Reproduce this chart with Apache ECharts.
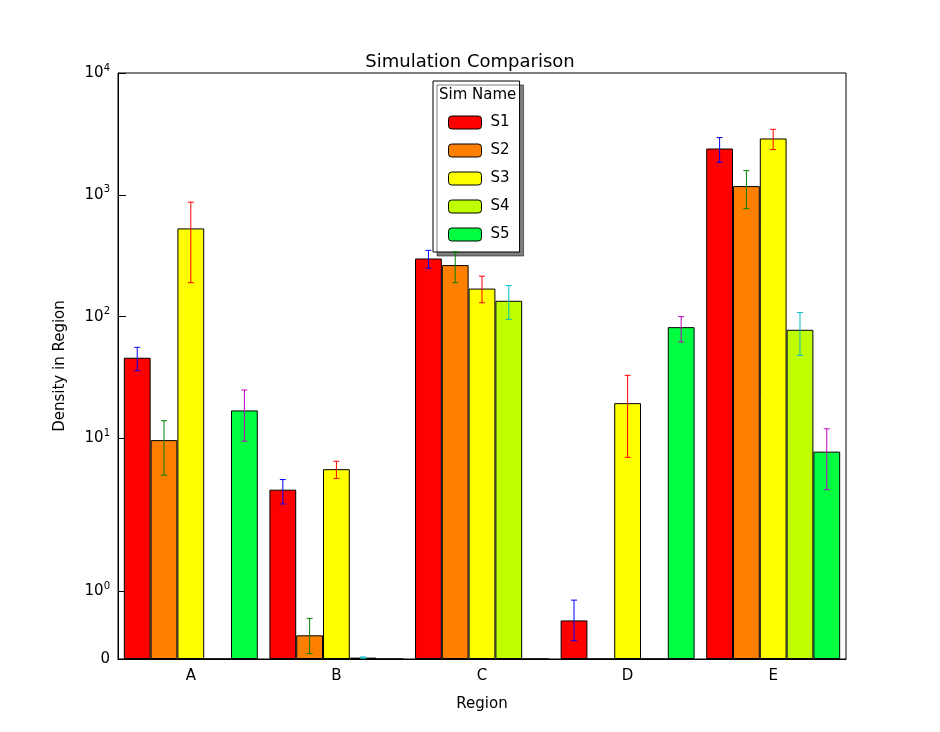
<!DOCTYPE html>
<html><head><meta charset="utf-8">
<script src="https://cdn.jsdelivr.net/npm/echarts@6/dist/echarts.min.js"></script>
<style>html,body{margin:0;background:#fff}#c{width:940px;height:732px}</style>
</head><body><div id="c"></div>
<script>
const categories = ['A','B','C','D','E'];
const seriesNames = ['S1','S2','S3','S4','S5'];
const barColors = ['#ff0000','#ff8000','#ffff00','#bfff00','#00ff40'];
const errColors = ['#0000ff','#008000','#ff0000','#00bfbf','#bf00bf'];
const S1 = [46, 3.8, 300, 0.57, 2400];
const S2 = [9.7, 0.35, 265, 0, 1180];
const S3 = [530, 5.6, 170, 19.5, 2900];
const S4 = [0, 0.02, 135, 0, 78];
const S5 = [17, 0, 0, 82, 7.8];
const S1err = [[36,56],[2.9,4.6],[250,350],[0.27,0.87],[1850,2950]];
const S2err = [[5,14],[0.08,0.6],[190,340],null,[770,1580]];
const S3err = [[190,870],[4.7,6.5],[130,215],[7,33],[2350,3450]];
const S4err = [null,[0.01,0.03],[95,180],null,[48,108]];
const S5err = [[9.5,25],null,null,[62,100],[3.8,12]];
const tickValues = [0,1,10,100,1000,10000];
const tickLabels = ['0','{b|10}{s|0}','{b|10}{s|1}','{b|10}{s|2}','{b|10}{s|3}','{b|10}{s|4}'];

const T = 2, ADJ = 1/(1-0.1);
function f(x){ return x<=T ? x*ADJ : T*(ADJ+Math.log10(x/T)); }
const vals=[S1,S2,S3,S4,S5], errs=[S1err,S2err,S3err,S4err,S5err];
const tv = tickValues.map(f);
const series=[];
vals.forEach((v,i)=>{
  series.push({type:'bar',name:seriesNames[i],data:v.map(f),barGap:'0%',barCategoryGap:'8%',
    itemStyle:{color:barColors[i],borderColor:'#000',borderWidth:1}});
});
const nS=5;
errs.forEach((e,i)=>{
  series.push({type:'custom',name:'err'+i,z:5,silent:true,
    data:e.map((r,j)=>r?[j,f(r[0]),f(r[1])]:[j,NaN,NaN]).filter(d=>!isNaN(d[1])),
    renderItem:(p,api)=>{
      const j=api.value(0);
      const c=api.coord([j,0]); const bw=api.size([1,0])[0];
      const gw=bw*0.92, w=gw/nS;
      const x=c[0]-gw/2+w*(i+0.5);
      const lo=api.coord([j,api.value(1)])[1], hi=api.coord([j,api.value(2)])[1];
      const st={stroke:errColors[i],lineWidth:1};
      return {type:'group',children:[
        {type:'line',shape:{x1:x,y1:lo,x2:x,y2:hi},style:st},
        {type:'line',shape:{x1:x-3,y1:lo,x2:x+3,y2:lo},style:st},
        {type:'line',shape:{x1:x-3,y1:hi,x2:x+3,y2:hi},style:st}]};
    }});
});
const chart=echarts.init(document.getElementById('c'));
chart.setOption({
  animation:false,
  title:{text:'Simulation Comparison',left:'center',top:48,textStyle:{fontFamily:'DejaVu Sans',fontSize:18,fontWeight:'normal',color:'#000'}},
  grid:{left:118,right:94,top:73,bottom:73,show:true,borderColor:'#000',borderWidth:1,backgroundColor:'transparent'},
  legend:{data:seriesNames,orient:'vertical',left:433,top:81,padding:[34,10,10,15],itemWidth:33,itemHeight:13,itemGap:13,
    backgroundColor:'#fff',borderColor:'#000',borderWidth:1,shadowColor:'rgba(0,0,0,0.5)',shadowOffsetX:4,shadowOffsetY:4,shadowBlur:0,
    textStyle:{fontFamily:'DejaVu Sans',fontSize:15,color:'#000',padding:[0,0,0,4]},itemStyle:{borderColor:'#000',borderWidth:1}},
  graphic:[{type:'text',left:439,top:88,z:100,style:{text:'Sim Name',font:'15px DejaVu Sans',fill:'#000'}}],
  xAxis:{type:'category',data:categories,name:'Region',nameLocation:'middle',nameGap:38,
    nameTextStyle:{fontFamily:'DejaVu Sans',fontSize:15,color:'#000'},
    axisLine:{lineStyle:{color:'#000'}},axisTick:{inside:true,alignWithLabel:true,length:6,lineStyle:{color:'#000'}},
    axisLabel:{fontFamily:'DejaVu Sans',fontSize:15,color:'#000',margin:10}},
  yAxis:{type:'value',min:0,max:f(10000),name:'Density in Region',nameLocation:'middle',nameGap:50,
    nameTextStyle:{fontFamily:'DejaVu Sans',fontSize:15,color:'#000'},
    splitLine:{show:false},axisLine:{show:true,lineStyle:{color:'#000'}},
    axisTick:{show:true,inside:true,length:8,customValues:tv,lineStyle:{color:'#000'}},
    axisLabel:{customValues:tv,margin:8,color:'#000',
      formatter:(v)=>{const k=tv.findIndex(t=>Math.abs(t-v)<1e-6);return k>=0?tickLabels[k]:'';},
      rich:{b:{fontFamily:'DejaVu Sans',fontSize:15,color:'#000'},s:{fontFamily:'DejaVu Sans',fontSize:10,color:'#000',verticalAlign:'top',padding:[0,0,10,0]}},
      fontFamily:'DejaVu Sans',fontSize:15}},
  series
});
</script></body></html>
